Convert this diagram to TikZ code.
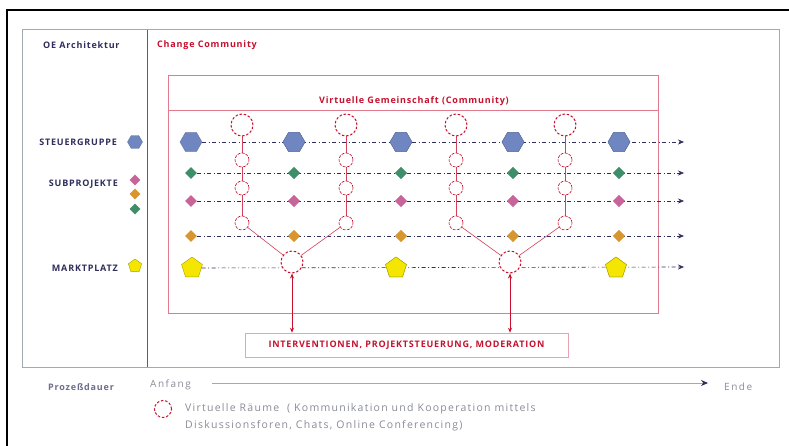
\documentclass[tikz,border=0pt]{standalone}
\usepackage{fontspec}
\setmainfont{Open Sans}
\newfontfamily\boldwide[LetterSpace=9]{Open Sans}
\newfontfamily\greywide[LetterSpace=15]{Open Sans}
\newfontfamily\legendwide[LetterSpace=12]{Open Sans}
\usetikzlibrary{shapes.geometric,arrows.meta}
\definecolor{navy}{HTML}{2E2E5C}
\definecolor{cred}{HTML}{C8102E}
\definecolor{cpink}{HTML}{E07A8C}
\definecolor{framegrey}{HTML}{A4A8B4}
\definecolor{divgrey}{HTML}{5A5E6E}
\definecolor{hexblue}{HTML}{6F86C0}
\definecolor{dgreen}{HTML}{3E8E6A}
\definecolor{dpink}{HTML}{C8649A}
\definecolor{dorange}{HTML}{D9962E}
\definecolor{pyellow}{HTML}{F4E600}
\definecolor{txtgrey}{HTML}{8A8C98}
\tikzset{
  lbl/.style={font=\boldwide\fontsize{9}{10}\selectfont\bfseries, text=navy, inner sep=0pt},
  greytxt/.style={font=\greywide\fontsize{10}{11}\selectfont, text=txtgrey, inner sep=0pt},
  hexa/.style={regular polygon, regular polygon sides=6, minimum size=#1, inner sep=0pt, fill=hexblue, draw=hexblue!80!black, line width=0.3pt},
  hexa/.default=22pt,
  diam/.style={diamond, minimum size=#1, inner sep=0pt, draw=none},
  diam/.default=12pt,
  penta/.style={regular polygon, regular polygon sides=5, minimum size=#1, inner sep=0pt, fill=pyellow, draw=pyellow!70!black, line width=0.4pt},
  penta/.default=22pt,
  vroom/.style={circle, draw=cred, fill=white, dash pattern=on 2.5pt off 1.8pt, line width=1pt, minimum size=#1, inner sep=0pt},
  vroom/.default=22pt,
  vsmall/.style={circle, draw=cred, fill=white, line width=0.6pt, dash pattern=on 3pt off 1.2pt, minimum size=14pt, inner sep=0pt},
  rowline/.style={navy, line width=0.6pt, dash pattern=on 4pt off 2.5pt on 1pt off 2.5pt, -{Stealth[length=6pt,width=5pt]}},
  redline/.style={cred!80, line width=0.6pt},
  redarrow/.style={cred, line width=0.7pt, {Stealth[length=5pt,width=4pt]}-{Stealth[length=5pt,width=4pt]}},
}
\begin{document}
\begin{tikzpicture}[x=1pt,y=-1pt]
\useasboundingbox (0,0) rectangle (789,446);
\fill[white] (0,0) rectangle (789,446);
% outer frame
\draw[line width=1.5pt] (7,447) -- (7,10) -- (790,10);
% inner grey frame and divider
\draw[framegrey, line width=1pt] (22,30) rectangle (779,367);
\draw[divgrey, line width=1pt] (147,30) -- (147,367);

% headings
\node[lbl, anchor=west] (hArch) at (43,45) {OE Architektur};
\node[lbl, anchor=west, text=cred] (hComm) at (157,45) {Change Community};

% community box
\draw[cpink, line width=0.8pt] (168,75) rectangle (658,313);
\draw[cpink, line width=0.8pt] (168,110) -- (658,110);
\node[lbl, text=cred] (hVirt) at (414,101) {Virtuelle Gemeinschaft (Community)};

% left legend
\node[lbl, anchor=east] (lSteuer) at (117,142) {STEUERGRUPPE};
\node[hexa=15pt] (kHex) at (135,142) {};
\node[lbl, anchor=east] (lSub) at (118,184) {SUBPROJEKTE};
\node[diam=11pt, fill=dpink] (kPink) at (135,180) {};
\node[diam=11pt, fill=dorange] (kOrange) at (135,194) {};
\node[diam=11pt, fill=dgreen] (kGreen) at (135,209) {};
\node[lbl, anchor=east] (lMarkt) at (118,268) {MARKTPLATZ};
\node[penta=14pt] (kPenta) at (135,266) {};

% row end points
\coordinate (e1) at (684,142);
\coordinate (e2) at (684,173);
\coordinate (e3) at (684,201);
\coordinate (e4) at (684,236);
\coordinate (e5) at (684,267);

% row shapes
\foreach \i/\x in {1/191,2/294,3/401,4/513,5/619}{
  \node[hexa] (h\i) at (\x,142) {};
  \node[diam, fill=dgreen] (g\i) at (\x,173) {};
  \node[diam, fill=dpink] (p\i) at (\x,201) {};
  \node[diam, fill=dorange] (o\i) at (\x,236) {};
}
\node[penta] (y1) at (192,268) {};
\node[penta] (y2) at (396,268) {};
\node[penta] (y3) at (616,268) {};

% time lines of each row
\draw[rowline] (h1) -- (e1);
\draw[rowline] (g1) -- (e2);
\draw[rowline] (p1) -- (e3);
\draw[rowline] (o1) -- (e4);
\draw[rowline] (y1) -- (e5);
% redraw shapes above the lines
\foreach \i/\x in {2/294,3/401,4/513,5/619}{
  \node[hexa] at (\x,142) {};
  \node[diam, fill=dgreen] at (\x,173) {};
  \node[diam, fill=dpink] at (\x,201) {};
  \node[diam, fill=dorange] at (\x,236) {};
}
\node[penta] at (396,268) {};
\node[penta] at (616,268) {};

% virtual rooms: vertical chains
\foreach \c/\x in {a/242,b/346,c/456,d/565}{
  \draw[redline] (\x,125) -- (\x,223);
  \node[vroom] (t\c) at (\x,125) {};
  \node[vsmall] (s\c1) at (\x,160) {};
  \node[vsmall] (s\c2) at (\x,188) {};
  \node[vsmall] (s\c3) at (\x,223) {};
}
% merging rooms
\node[vroom] (m1) at (292,262) {};
\node[vroom] (m2) at (510,262) {};
\draw[redline] (sa3) -- (m1);
\draw[redline] (sb3) -- (m1);
\draw[redline] (sc3) -- (m2);
\draw[redline] (sd3) -- (m2);

% interventions box
\node[draw=cpink!70, line width=0.6pt, minimum width=323pt, minimum height=24pt, inner sep=0pt,
      font=\boldwide\fontsize{9}{10}\selectfont\bfseries, text=cred] (iv) at (406.5,345) {INTERVENTIONEN, PROJEKTSTEUERUNG, MODERATION};
\draw[redarrow] (m1) -- (m1 |- iv.north);
\draw[redarrow] (m2) -- (m2 |- iv.north);

% process duration axis
\node[lbl, text=navy!70, anchor=west] (lDauer) at (48,387) {Prozeßdauer};
\node[greytxt, anchor=west] (lStart) at (150,385) {Anfang};
\node[greytxt, anchor=west] (lEnd) at (724,387) {Ende};
\coordinate (axA) at (212,383);
\coordinate (axB) at (708,383);
\draw[framegrey, line width=0.8pt, -{Stealth[length=7pt,width=6pt,color=navy]}] (axA) -- (axB);

% legend of virtual rooms
\node[vroom=17pt] (legRoom) at (163,409) {};
\node[greytxt, font=\legendwide\fontsize{10.5}{17}\selectfont, anchor=north west, align=left] (legText) at (185,403)
  {Virtuelle Räume \ ( Kommunikation und Kooperation mittels\\Diskussionsforen, Chats, Online Conferencing)};
\end{tikzpicture}
\end{document}
